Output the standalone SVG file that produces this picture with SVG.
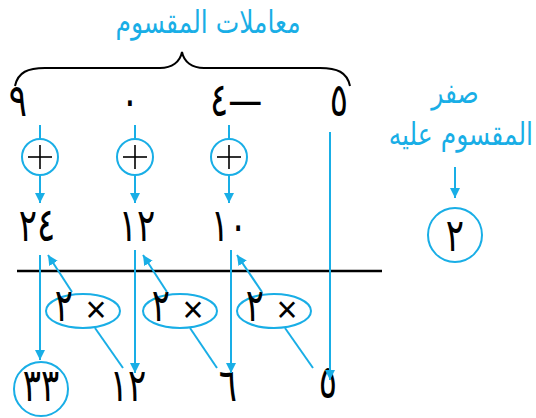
<svg xmlns="http://www.w3.org/2000/svg" width="536" height="418" viewBox="0 0 536 418">
  <defs>
    <marker id="arrow" viewBox="0 0 10 10" refX="10" refY="5" markerWidth="10" markerHeight="10" markerUnits="userSpaceOnUse" orient="auto">
      <path d="M0,0 L10,5 L0,10 z" fill="#19aee6"/>
    </marker>
    <style>
      .blue { stroke: #19aee6; stroke-width: 2; fill: none; }
      .arr { stroke: #19aee6; stroke-width: 2; fill: none; marker-end: url(#arrow); }
      .num { font-family: "DejaVu Sans", sans-serif; font-size: 34px; fill: #000; text-anchor: middle; direction: ltr; }
      .times { font-family: "Liberation Sans", sans-serif; font-size: 36px; fill: #000; text-anchor: middle; }
      .lbl { font-family: "DejaVu Sans", sans-serif; font-size: 25px; fill: #19aee6; direction: rtl; }
      .plus { stroke: #000; stroke-width: 1.6; }
    </style>
  </defs>

  <!-- brace over the dividend coefficients -->
  <g id="brace">
    <text class="lbl" text-anchor="middle" transform="translate(208,33) scale(1,1.25)">معاملات المقسوم</text>
    <path d="M15,86 C18,72 28,68 45,68 L160,68 C172,68 180,62 182,52 C184,62 192,68 204,68 L320,68 C337,68 347,72 350,86" fill="none" stroke="#000" stroke-width="2"/>
  </g>

  <!-- coefficients row -->
  <g id="coefficients">
    <text class="num" transform="translate(18,116) scale(1,1.35)">٩</text>
    <text class="num" transform="translate(130,116) scale(1,1.35)">٠</text>
    <text class="num" transform="translate(236,116) scale(1,1.35)">٤—</text>
    <text class="num" transform="translate(339,116) scale(1,1.35)">٥</text>
  </g>

  <!-- divisor zero -->
  <g id="divisor">
    <text class="lbl" text-anchor="middle" transform="translate(455,103) scale(1,1.25)">صفر</text>
    <text class="lbl" text-anchor="start" transform="translate(533,145) scale(1,1.25)">المقسوم عليه</text>
    <circle cx="455" cy="235" r="27" class="blue"/>
    <text class="num" transform="translate(455,251) scale(1,1.35)">٢</text>
  </g>

  <!-- addition nodes -->
  <g id="add1">
    <circle cx="40" cy="157" r="18" class="blue"/>
    <line x1="28" y1="157" x2="52" y2="157" class="plus"/>
    <line x1="40" y1="145" x2="40" y2="169" class="plus"/>
  </g>
  <g id="add2">
    <circle cx="135" cy="157" r="18" class="blue"/>
    <line x1="123" y1="157" x2="147" y2="157" class="plus"/>
    <line x1="135" y1="145" x2="135" y2="169" class="plus"/>
  </g>
  <g id="add3">
    <circle cx="229" cy="157" r="18" class="blue"/>
    <line x1="217" y1="157" x2="241" y2="157" class="plus"/>
    <line x1="229" y1="145" x2="229" y2="169" class="plus"/>
  </g>

  <!-- sums row -->
  <g id="sums">
    <text class="num" transform="translate(37,241) scale(1,1.35)">٢٤</text>
    <text class="num" transform="translate(137,241) scale(1,1.35)">١٢</text>
    <text class="num" transform="translate(229,241) scale(1,1.35)">١٠</text>
  </g>

  <!-- division bar -->
  <line id="bar" x1="17" y1="271" x2="382" y2="271" stroke="#000" stroke-width="2.5"/>

  <!-- multiplication nodes -->
  <g id="mul1">
    <ellipse cx="83" cy="311" rx="37" ry="17" class="blue"/>
    <text class="num" transform="translate(64,321) scale(1,1.35)">٢</text>
    <text class="times" x="96" y="322">×</text>
  </g>
  <g id="mul2">
    <ellipse cx="180" cy="311" rx="37" ry="17" class="blue"/>
    <text class="num" transform="translate(161,321) scale(1,1.35)">٢</text>
    <text class="times" x="193" y="322">×</text>
  </g>
  <g id="mul3">
    <ellipse cx="274" cy="311" rx="37" ry="17" class="blue"/>
    <text class="num" transform="translate(255,321) scale(1,1.35)">٢</text>
    <text class="times" x="287" y="322">×</text>
  </g>

  <!-- result row -->
  <g id="results">
    <circle cx="41" cy="389" r="27" class="blue"/>
    <text class="num" transform="translate(41,401) scale(1,1.35)">٣٣</text>
    <text class="num" transform="translate(128,401) scale(1,1.35)">١٢</text>
    <text class="num" transform="translate(228,401) scale(1,1.35)">٦</text>
    <text class="num" transform="translate(328,398) scale(1,1.35)">٥</text>
  </g>

  <!-- connectors -->
  <g id="connectors">
    <line x1="40" y1="125" x2="40" y2="139" class="blue"/>
    <line x1="40" y1="175" x2="40" y2="203" class="arr"/>
    <line x1="135" y1="125" x2="135" y2="139" class="blue"/>
    <line x1="135" y1="175" x2="135" y2="203" class="arr"/>
    <line x1="229" y1="125" x2="229" y2="139" class="blue"/>
    <line x1="229" y1="175" x2="229" y2="203" class="arr"/>
    <line x1="455" y1="167" x2="455" y2="198" class="arr"/>

    <line x1="40" y1="255" x2="40" y2="360" class="arr"/>
    <line x1="135" y1="250" x2="135" y2="373" class="arr"/>
    <line x1="231" y1="250" x2="231" y2="373" class="arr"/>
    <line x1="330" y1="132" x2="330" y2="380" class="arr"/>

    <line x1="123" y1="368" x2="95" y2="328" class="blue"/>
    <line x1="72" y1="292" x2="48" y2="255" class="arr"/>
    <line x1="217" y1="368" x2="190" y2="328" class="blue"/>
    <line x1="167" y1="292" x2="143" y2="255" class="arr"/>
    <line x1="313" y1="368" x2="285" y2="328" class="blue"/>
    <line x1="262" y1="292" x2="237" y2="255" class="arr"/>
  </g>
</svg>
